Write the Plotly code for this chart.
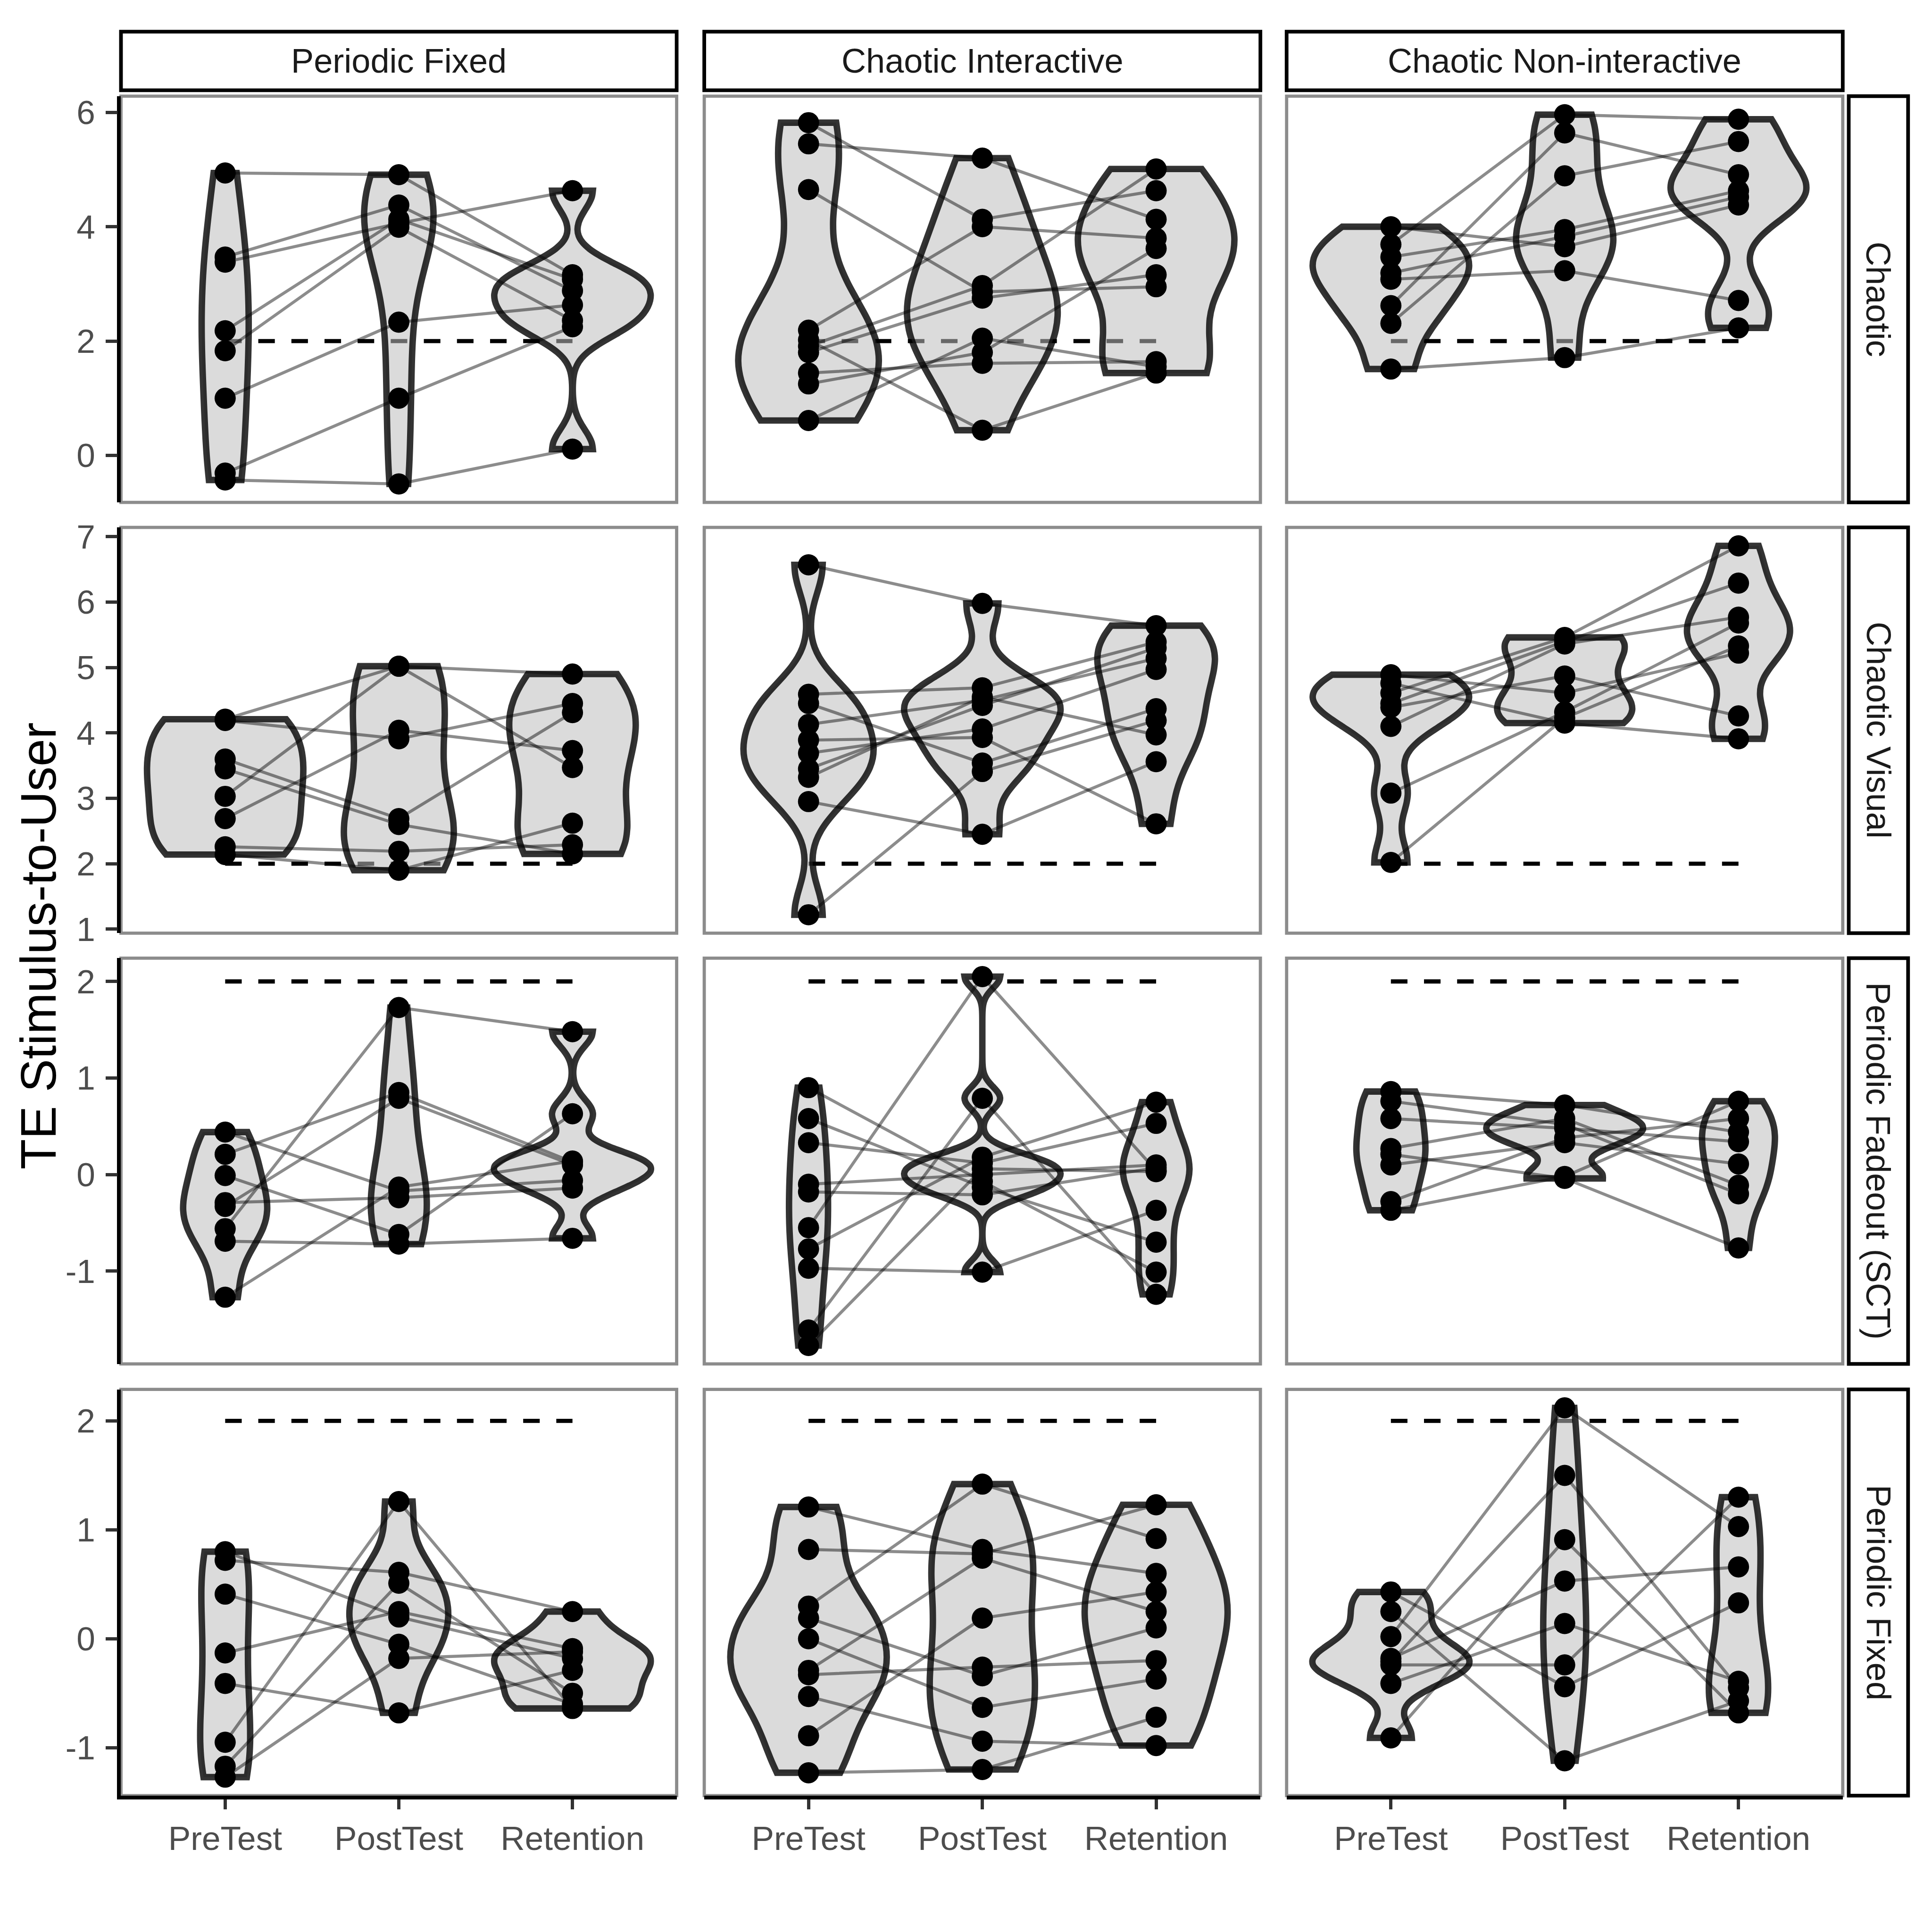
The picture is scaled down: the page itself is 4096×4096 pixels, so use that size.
import numpy as np
import plotly.graph_objects as go

# ---------------- data ----------------
CATEGORIES = ["PreTest", "PostTest", "Retention"]
COLUMN_LABELS = ["Periodic Fixed", "Chaotic Interactive", "Chaotic Non-interactive"]
ROW_LABELS = ["Chaotic", "Chaotic Visual", "Periodic Fadeout (SCT)", "Periodic Fixed"]
Y_AXIS_TITLE = "TE Stimulus-to-User"
REFERENCE_LEVEL = 2
Y_TICKS_BY_ROW = [[0, 2, 4, 6], [1, 2, 3, 4, 5, 6, 7], [-1, 0, 1, 2], [-1, 0, 1, 2]]

# one entry per subject: [PreTest, PostTest, Retention]
chaotic_periodic_fixed = [
    [4.94, 4.91, 3.16], [3.47, 4.38, 2.88], [3.38, 4.06, 4.63], [2.18, 4.13, 3.08],
    [1.83, 3.99, 2.36], [1.00, 2.33, 2.63], [-0.31, 1.00, 2.25], [-0.43, -0.50, 0.11]]
chaotic_chaotic_interactive = [
    [5.82, 4.13, 4.63], [5.45, 5.20, 4.13], [4.65, 2.86, 2.95], [2.19, 4.00, 3.80],
    [2.02, 0.44, 1.44], [1.91, 2.97, 5.01], [1.80, 2.75, 3.16], [1.44, 1.61, 1.64],
    [1.25, 1.80, 3.62], [0.61, 2.05, 1.55]]
chaotic_chaotic_noninteractive = [
    [4.00, 3.65, 4.38], [3.69, 5.96, 5.88], [3.47, 3.95, 4.63], [3.19, 3.83, 4.52],
    [3.08, 3.23, 2.71], [2.62, 5.64, 4.91], [2.31, 4.89, 5.49], [1.51, 1.71, 2.23]]

visual_periodic_fixed = [
    [4.21, 5.02, 4.90], [4.19, 3.91, 4.45], [3.60, 2.69, 4.31], [3.45, 2.60, 2.15],
    [3.03, 5.02, 3.47], [2.69, 4.04, 3.73], [2.26, 2.19, 2.29], [2.14, 1.90, 2.62]]
visual_chaotic_interactive = [
    [6.57, 5.98, 5.64], [4.59, 4.69, 5.39], [4.45, 3.54, 4.37], [4.13, 4.50, 5.14],
    [3.89, 3.93, 2.61], [3.69, 4.06, 4.97], [3.45, 4.42, 5.30], [3.32, 4.55, 3.97],
    [2.95, 2.45, 3.56], [1.22, 3.41, 4.19]]
visual_chaotic_noninteractive = [
    [4.89, 4.61, 5.22], [4.76, 4.15, 3.91], [4.61, 5.46, 6.86], [4.45, 5.40, 6.29],
    [4.39, 4.87, 4.26], [4.10, 5.36, 5.77], [3.08, 4.32, 5.68], [2.02, 4.23, 5.33]]

fadeout_periodic_fixed = [
    [0.44, -0.17, -0.06], [0.21, 0.85, 0.13], [-0.01, -0.62, 0.63], [-0.29, -0.24, -0.14],
    [-0.33, 0.79, 0.10], [-0.56, 1.73, 1.48], [-0.69, -0.72, -0.66], [-1.27, -0.13, 0.14]]
fadeout_chaotic_interactive = [
    [0.90, -0.07, -1.01], [0.58, -0.13, -0.70], [0.33, 0.12, 0.53], [-0.10, 0.00, 0.10],
    [-0.18, -0.21, 0.07], [-0.55, 2.05, 0.04], [-0.77, 0.18, 0.75], [-0.97, -1.01, -0.37],
    [-1.61, 0.79, -1.24], [-1.77, 0.06, 0.03]]
fadeout_chaotic_noninteractive = [
    [0.86, 0.72, 0.44], [0.76, 0.52, -0.20], [0.58, 0.48, 0.34], [0.27, 0.58, -0.11],
    [0.21, -0.04, -0.76], [0.10, 0.33, 0.11], [-0.28, 0.38, 0.58], [-0.37, -0.02, 0.76]]

fixed_periodic_fixed = [
    [0.80, 0.20, -0.18], [0.72, 0.61, 0.25], [0.41, -0.05, -0.60], [-0.13, 0.25, -0.09],
    [-0.41, -0.68, -0.29], [-0.95, 1.26, -0.64], [-1.17, 0.51, -0.50], [-1.27, -0.18, -0.12]]
fixed_chaotic_interactive = [
    [1.21, 0.82, 0.60], [0.82, 0.78, 1.23], [0.30, 1.42, 0.92], [0.19, -0.34, 0.10],
    [0.00, -0.63, -0.37], [-0.29, 0.74, 0.25], [-0.33, -0.26, -0.20], [-0.53, -0.94, -0.98],
    [-0.89, 0.19, 0.43], [-1.23, -1.20, -0.72]]
fixed_chaotic_noninteractive = [
    [0.43, -0.44, 0.33], [0.25, -1.12, -0.57], [0.02, 2.12, 1.03], [-0.18, 0.53, 0.66],
    [-0.21, 1.50, -0.45], [-0.24, -0.24, 1.30], [-0.41, 0.14, -0.39], [-0.91, 0.91, -0.68]]

PANEL_DATA = [
    [chaotic_periodic_fixed, chaotic_chaotic_interactive, chaotic_chaotic_noninteractive],
    [visual_periodic_fixed, visual_chaotic_interactive, visual_chaotic_noninteractive],
    [fadeout_periodic_fixed, fadeout_chaotic_interactive, fadeout_chaotic_noninteractive],
    [fixed_periodic_fixed, fixed_chaotic_interactive, fixed_chaotic_noninteractive],
]

# ---------------- geometry (reference pixels, 4200 frame) ----------------
REF = 4200.0
SCALE = 4096.0 / REF
COL_EDGES = [(263, 1471), (1531, 2740), (2797, 4006)]
ROW_EDGES = [(192, 1086), (1141, 2034), (2089, 2982), (3038, 3932)]
TOP_STRIP = (50, 179)
RIGHT_STRIP = (4019, 4148)

FONT = "Liberation Sans, Arial, sans-serif"


def s(v):
    return v * SCALE


def fx(px):
    return px / REF


def fy(py):
    return 1 - py / REF


def bw_nrd0(vals):
    x = np.asarray(vals, dtype=float)
    n = len(x)
    hi = np.std(x, ddof=1)
    q75, q25 = np.percentile(x, [75, 25])
    lo = min(hi, (q75 - q25) / 1.34)
    if lo <= 0:
        lo = hi if hi > 0 else (abs(x[0]) if x[0] != 0 else 1.0)
    return 0.9 * lo * n ** (-0.2)


fig = go.Figure()
layout_axes = {}
shapes = []
annotations = []

for r in range(4):
    row_vals = [v for panel in PANEL_DATA[r] for subj in panel for v in subj] + [REFERENCE_LEVEL]
    lo, hi = min(row_vals), max(row_vals)
    pad = 0.05 * (hi - lo)
    yrange = [lo - pad, hi + pad]
    for c in range(3):
        idx = r * 3 + c + 1
        xn = "x" if idx == 1 else f"x{idx}"
        yn = "y" if idx == 1 else f"y{idx}"
        subjects = PANEL_DATA[r][c]
        group = f"panel{idx}"

        # violins (equal-area scaling within each panel via a shared scale group)
        for k, cat in enumerate(CATEGORIES):
            vals = [subj[k] for subj in subjects]
            fig.add_trace(go.Violin(
                x=[k + 1] * len(vals), y=vals, xaxis=xn, yaxis=yn,
                orientation="v", scalegroup=group, scalemode="width",
                spanmode="hard", bandwidth=bw_nrd0(vals), points=False,
                fillcolor="rgba(190,190,190,0.55)",
                line=dict(color="rgba(0,0,0,0.8)", width=s(14)),
                box_visible=False, meanline_visible=False,
                name=f"{group}-{cat}",
                hoverinfo="skip", showlegend=False))
        # subject lines
        for subj in subjects:
            fig.add_trace(go.Scatter(
                x=[1, 2, 3], y=subj, xaxis=xn, yaxis=yn, mode="lines",
                line=dict(color="rgba(0,0,0,0.45)", width=s(6.6)),
                hoverinfo="skip", showlegend=False))
        # points
        px_, py_ = [], []
        for subj in subjects:
            for k in range(3):
                px_.append(k + 1)
                py_.append(subj[k])
        fig.add_trace(go.Scatter(
            x=px_, y=py_, xaxis=xn, yaxis=yn, mode="markers",
            marker=dict(color="black", size=s(46), line=dict(width=0)),
            hoverinfo="skip", showlegend=False))

        x0, x1 = COL_EDGES[c]
        y0, y1 = ROW_EDGES[r]
        bottom = r == 3
        left = c == 0
        layout_axes["xaxis" if idx == 1 else f"xaxis{idx}"] = dict(
            domain=[fx(x0), fx(x1)], anchor=yn, range=[0.4, 3.6],
            tickmode="array", tickvals=[1, 2, 3], ticktext=CATEGORIES,
            showticklabels=bottom, ticks="outside" if bottom else "",
            ticklen=s(22), tickwidth=s(7), tickcolor="#333333",
            tickfont=dict(family=FONT, size=s(73), color="#4D4D4D"),
            showline=bottom, linecolor="black", linewidth=s(8),
            showgrid=False, zeroline=False, fixedrange=True)
        layout_axes["yaxis" if idx == 1 else f"yaxis{idx}"] = dict(
            domain=[fy(y1), fy(y0)], anchor=xn, range=yrange,
            tickmode="array", tickvals=Y_TICKS_BY_ROW[r],
            ticktext=[str(t) for t in Y_TICKS_BY_ROW[r]],
            showticklabels=left, ticks="outside" if left else "",
            ticklen=s(25), tickwidth=s(7), tickcolor="#333333",
            ticklabelstandoff=int(round(s(8))),
            tickfont=dict(family=FONT, size=s(73), color="#4D4D4D"),
            showline=left, linecolor="black", linewidth=s(8),
            showgrid=False, zeroline=False, fixedrange=True)

        # panel border
        shapes.append(dict(type="rect", xref=f"{xn} domain", yref=f"{yn} domain",
                           x0=0, x1=1, y0=0, y1=1, layer="below",
                           line=dict(color="#8C8C8C", width=s(7))))
        # reference dashed line (drawn beneath the violins)
        shapes.append(dict(type="line", xref=xn, yref=yn, x0=1, x1=3,
                           y0=REFERENCE_LEVEL, y1=REFERENCE_LEVEL, layer="below",
                           line=dict(color="black", width=s(9), dash=f"{s(36):.1f}px,{s(36):.1f}px")))

# column strips
for c, lab in enumerate(COLUMN_LABELS):
    x0, x1 = COL_EDGES[c]
    shapes.append(dict(type="rect", xref="paper", yref="paper",
                       x0=fx(x0), x1=fx(x1), y0=fy(TOP_STRIP[1]), y1=fy(TOP_STRIP[0]),
                       fillcolor="white", line=dict(color="black", width=s(8))))
    annotations.append(dict(text=lab, xref="paper", yref="paper",
                            x=fx((x0 + x1) / 2), y=fy(sum(TOP_STRIP) / 2),
                            showarrow=False, xanchor="center", yanchor="middle",
                            font=dict(family=FONT, size=s(74), color="#1A1A1A")))
# row strips
for r, lab in enumerate(ROW_LABELS):
    y0, y1 = ROW_EDGES[r]
    shapes.append(dict(type="rect", xref="paper", yref="paper",
                       x0=fx(RIGHT_STRIP[0]), x1=fx(RIGHT_STRIP[1]), y0=fy(y1), y1=fy(y0),
                       fillcolor="white", line=dict(color="black", width=s(8))))
    annotations.append(dict(text=lab, xref="paper", yref="paper",
                            x=fx(sum(RIGHT_STRIP) / 2), y=fy((y0 + y1) / 2),
                            showarrow=False, xanchor="center", yanchor="middle", textangle=90,
                            font=dict(family=FONT, size=s(74), color="#1A1A1A")))
# y axis title
annotations.append(dict(text=Y_AXIS_TITLE, xref="paper", yref="paper",
                        x=fx(83), y=fy((ROW_EDGES[0][0] + ROW_EDGES[-1][1]) / 2),
                        showarrow=False, xanchor="center", yanchor="middle", textangle=-90,
                        font=dict(family=FONT, size=s(108), color="black")))

fig.update_layout(
    width=4096, height=4096, autosize=False,
    margin=dict(l=0, r=0, t=0, b=0, pad=0),
    paper_bgcolor="white", plot_bgcolor="white",
    violinmode="overlay", violingap=0.1, violingroupgap=0,
    showlegend=False,
    shapes=shapes, annotations=annotations,
    **layout_axes)

fig.write_html(
    "out.html",
    post_script="document.body.style.margin='0';document.body.style.padding='0';"
                "document.documentElement.style.overflow='hidden';")
